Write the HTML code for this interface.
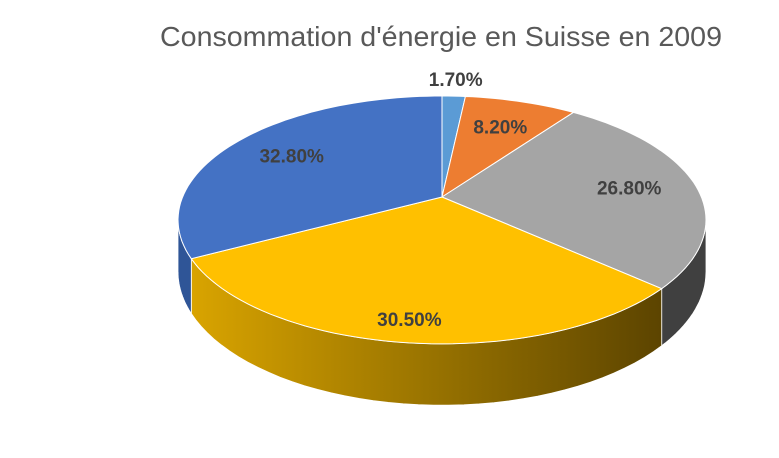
<!DOCTYPE html>
<html><head><meta charset="utf-8"><style>
html,body{margin:0;padding:0;background:#fff;}
svg{display:block;font-family:"Liberation Sans",sans-serif;}
</style></head><body>
<svg id="chart" width="779" height="458" viewBox="0 0 779 458">
<defs>
<linearGradient id="gy" gradientUnits="userSpaceOnUse" x1="190" y1="0" x2="662" y2="0">
<stop offset="0" stop-color="#d9a400"/><stop offset="0.5" stop-color="#9a7400"/><stop offset="1" stop-color="#5c4400"/></linearGradient>
</defs>
<text x="441" y="46" text-anchor="middle" font-size="28" fill="#595959" textLength="562" lengthAdjust="spacingAndGlyphs">Consommation d'énergie en Suisse en 2009</text>
<g id="walls"></g><g id="tops"></g><g id="labels"></g>
</svg>
<script>
const categories = ["Slice 1","Slice 2","Slice 3","Slice 4","Slice 5"];
const values = [1.7, 8.2, 26.8, 30.5, 32.8];
const valueLabels = ["1.70%","8.20%","26.80%","30.50%","32.80%"];
const colors = ["#5B9BD5","#ED7D31","#A5A5A5","#FFC000","#4472C4"];
const wallColors = ["#3f78b0","#b85a1c","#404040","url(#gy)","#2f5597"];
const NS="http://www.w3.org/2000/svg";
const cx=442, cy=197, R=259.4, R2=119.7, k=0.185;
function proj(deg,f){const t=deg*Math.PI/180;const u=Math.sin(t),v=-Math.cos(t);const s=1/(1-k*v);return [cx+R*u*s*f, cy+R2*v*s*f, s];}
function depth(deg){return 50*proj(deg,1)[2];}
const total=values.reduce((a,b)=>a+b,0);
const walls=document.getElementById('walls'),tops=document.getElementById('tops'),labs=document.getElementById('labels');
let acc=0;
const wLo=100.7, wHi=259.3;
values.forEach((val,i)=>{
  const a0=acc/total*360, a1=(acc+val)/total*360; acc+=val;
  const b0=Math.max(a0,wLo), b1=Math.min(a1,wHi);
  if(b1>b0){
    let d="",back=[];
    for(let a=b0;a<=b1+1e-9;a+=(b1-b0)/40){const p=proj(a,1);d+=(d?"L":"M")+p[0].toFixed(1)+","+p[1].toFixed(1);back.push([p[0],p[1]+depth(a)]);}
    back.reverse().forEach(p=>{d+="L"+p[0].toFixed(1)+","+p[1].toFixed(1);});
    const w=document.createElementNS(NS,'path');w.setAttribute('d',d+"Z");w.setAttribute('fill',wallColors[i]);w.setAttribute('stroke','#fff');w.setAttribute('stroke-width','0.8');
    
    
    walls.appendChild(w);
  }
  let d="M"+cx+","+cy;
  const n=Math.max(4,Math.ceil((a1-a0)/2));
  for(let j=0;j<=n;j++){const p=proj(a0+(a1-a0)*j/n,1);d+="L"+p[0].toFixed(1)+","+p[1].toFixed(1);}
  const s=document.createElementNS(NS,'path');s.setAttribute('d',d+"Z");s.setAttribute('fill',colors[i]);s.setAttribute('stroke','#fff');s.setAttribute('stroke-width','1');
  
  
  tops.appendChild(s);
  const mid=(a0+a1)/2;
  const f = val<3 ? 1.17 : (mid>150&&mid<220 ? 0.84 : 0.74);
  const lp=proj(mid,f);
  const t=document.createElementNS(NS,'text');t.setAttribute('x',lp[0].toFixed(1));t.setAttribute('y',(lp[1]+7).toFixed(1));
  t.setAttribute('text-anchor','middle');t.setAttribute('font-size','19');t.setAttribute('font-weight','bold');t.setAttribute('fill','#404040');
  t.textContent=valueLabels[i];
  
  
  labs.appendChild(t);
});
</script>
</body></html>
